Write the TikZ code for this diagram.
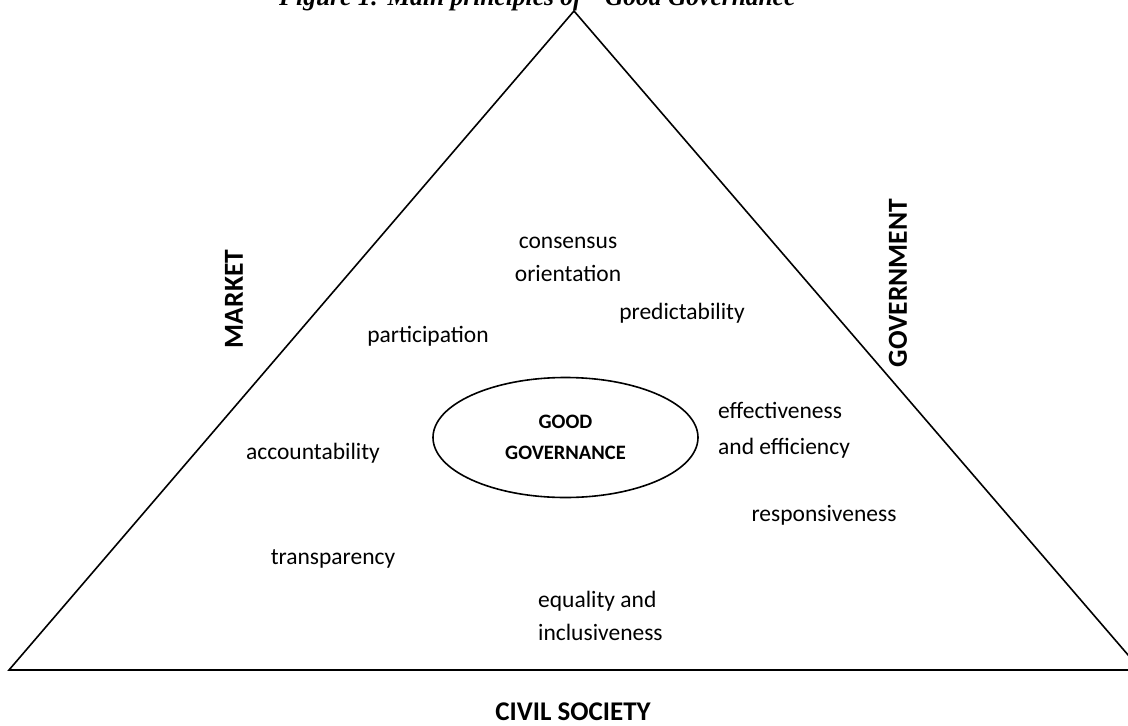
\documentclass[tikz,border=0pt]{standalone}
\usepackage{fontspec}
\setmainfont{Carlito}
\newfontfamily\titlefont{Liberation Serif}
\usetikzlibrary{shapes.geometric}
\begin{document}
\begin{tikzpicture}[x=1pt,y=-1pt,
  edge/.style={draw=black,line width=1.6pt,line join=miter},
  principle/.style={inner sep=0pt,font=\fontsize{23.5}{33}\selectfont},
  sector/.style={inner sep=0pt,font=\fontsize{27.5}{33}\selectfont\bfseries},
  core/.style={ellipse,draw=black,line width=1.6pt,minimum width=265pt,minimum height=120pt,inner sep=0pt,align=center,font=\fontsize{20.5}{31}\selectfont\bfseries}]
\useasboundingbox (0,0) rectangle (1128,726);
\fill[white] (0,0) rectangle (1128,726);

% caption, cut by the page edge
\node[anchor=base west,inner sep=0pt,font=\titlefont\fontsize{25.5}{28}\selectfont\bfseries\itshape] (title) at (279,5) {Figure 1: Main principles of ``Good Governance''};

% the triangle of sectors
\coordinate (apex) at (574,11);
\coordinate (bl) at (9,670);
\coordinate (br) at (1141,670);
\draw[edge] (apex) -- (bl) -- (br) -- cycle;

\node[core] (gg) at (565.5,437.5) {GOOD\\GOVERNANCE};

% principles
\node[principle,align=center] (consensus) at (568,259.5) {consensus\\orientation};
\node[principle] (predict) at (682,313) {predictability};
\node[principle] (particip) at (428,336) {participation};
\node[principle,align=left,anchor=west,font=\fontsize{23.5}{36}\selectfont] (effect) at (718,430) {effectiveness\\and efficiency};
\node[principle] (account) at (313,453) {accountability};
\node[principle] (respons) at (824,515) {responsiveness};
\node[principle] (transp) at (333,559) {transparency};
\node[principle,align=left,anchor=west] (equal) at (538,616) {equality and\\inclusiveness};

% sectors
\node[sector,rotate=90] (market) at (234,299) {MARKET};
\node[sector,rotate=90] (govt) at (898,283) {GOVERNMENT};
\node[sector,font=\fontsize{27}{30}\selectfont\bfseries] (civil) at (573,712) {CIVIL SOCIETY};
\end{tikzpicture}
\end{document}
